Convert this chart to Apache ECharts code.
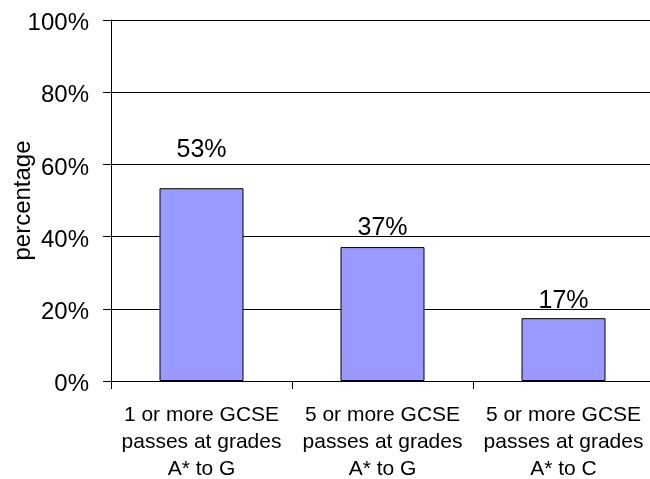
<!DOCTYPE html>
<html>
<head>
<meta charset="utf-8">
<script src="https://cdn.jsdelivr.net/npm/echarts@6/dist/echarts.min.js"></script>
<style>html,body{margin:0;padding:0;background:#fff;}#c{width:650px;height:479px;}</style>
</head>
<body>
<div id="c"></div>
<script>
var categories = [
  '1 or more GCSE\npasses at grades\nA* to G',
  '5 or more GCSE\npasses at grades\nA* to G',
  '5 or more GCSE\npasses at grades\nA* to C'
];
var values = [53.4, 37.1, 17.4];
var valueLabels = ['53%', '37%', '17%'];
var yTicks = [0, 20, 40, 60, 80, 100];
var labelGaps = [26, 6, 5];

var FONT = "'Liberation Sans', Arial, sans-serif";
var chart = echarts.init(document.getElementById('c'), null, {renderer: 'canvas'});
chart.setOption({
  animation: false,
  backgroundColor: '#fff',
  grid: {left: 111, right: -4, top: 20, bottom: 98, containLabel: false, outerBoundsMode: 'none'},
  xAxis: {
    type: 'category',
    data: categories,
    boundaryGap: true,
    axisLine: {lineStyle: {color: '#000', width: 1}},
    axisTick: {show: true, inside: false, length: 8, alignWithLabel: false, lineStyle: {color: '#000'}},
    axisLabel: {interval: 0, margin: 21, color: '#000', fontFamily: FONT, fontSize: 21, lineHeight: 27, align: 'center'},
    splitLine: {show: false}
  },
  yAxis: {
    type: 'value',
    min: yTicks[0],
    max: yTicks[yTicks.length - 1],
    interval: 20,
    name: 'percentage',
    nameLocation: 'middle',
    nameGap: 76,
    nameRotate: 90,
    nameMoveOverlap: false,
    nameTextStyle: {color: '#000', fontFamily: FONT, fontSize: 24},
    axisLine: {show: true, lineStyle: {color: '#000', width: 1}},
    axisTick: {show: true, inside: false, length: 8, lineStyle: {color: '#000'}},
    axisLabel: {margin: 22, color: '#000', fontFamily: FONT, fontSize: 24, verticalAlign: 'top', lineHeight: 7,
      formatter: function (v) { return v + '%'; }},
    splitLine: {show: true, lineStyle: {color: '#000', width: 1}}
  },
  series: [{
    type: 'bar',
    barWidth: 84,
    data: values.map(function (v, i) {
      return {value: v, label: {distance: labelGaps[i]}};
    }),
    itemStyle: {color: '#9999FF', borderColor: '#000', borderWidth: 1},
    label: {
      show: true,
      position: 'top',
      color: '#000',
      fontFamily: FONT,
      fontSize: 25,
      formatter: function (p) { return valueLabels[p.dataIndex]; }
    }
  }]
});
</script>
</body>
</html>
